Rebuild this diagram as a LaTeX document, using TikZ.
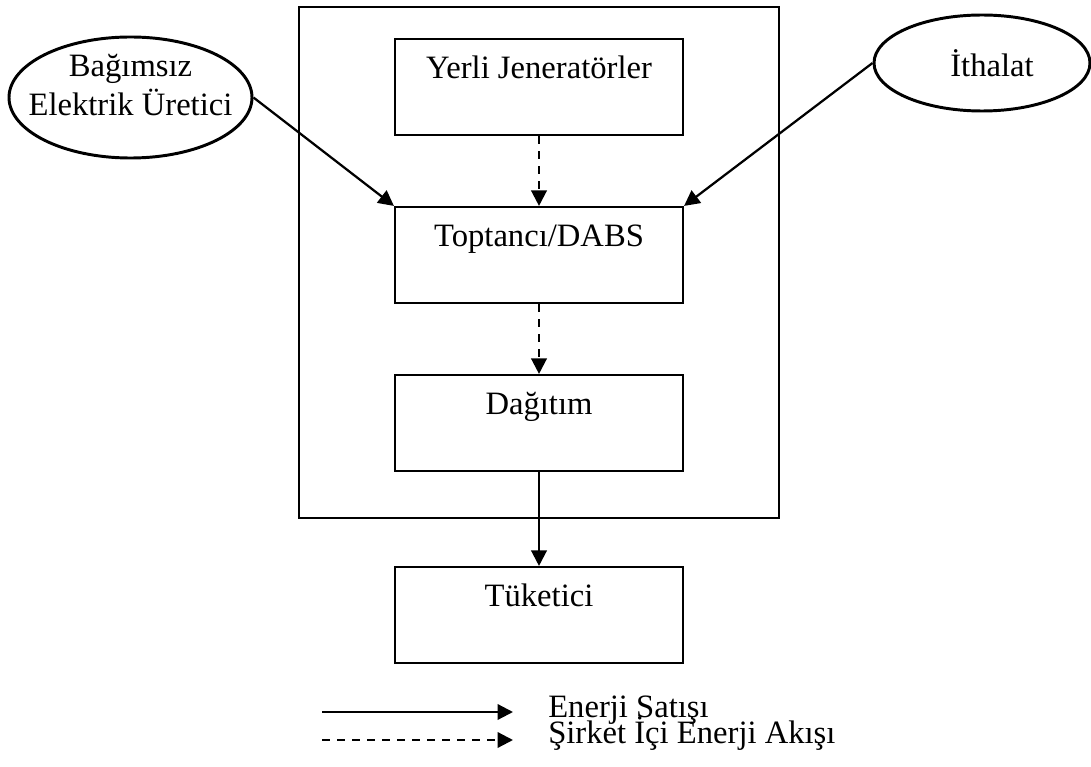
\documentclass[tikz,border=0pt]{standalone}
\usepackage{fontspec}
\setmainfont{Liberation Serif}
\usetikzlibrary{shapes.geometric,arrows.meta}
\begin{document}
\begin{tikzpicture}[
  stepbox/.style={draw, line width=1.5pt, minimum width=7.2cm, minimum height=2.4cm, inner sep=0pt},
  oval/.style={draw, ellipse, line width=2.1pt, inner sep=0pt},
  boxtext/.style={anchor=base, font=\fontsize{23.2}{27}\selectfont, inner sep=0pt},
  sale/.style={line width=1.6pt, -{Triangle[length=11pt,width=11pt]}},
  flow/.style={sale, dash pattern=on 5.7pt off 5pt},
]
\useasboundingbox (0,0) rectangle (27.275,-19.175);

% Company frame
\node[draw, line width=1.5pt, minimum width=12cm, minimum height=12.775cm, inner sep=0pt] (company) at (13.475,-6.5625) {};

% Boxes inside the company
\node[stepbox] (yerli) at (13.475,-2.175) {};
\node[boxtext] (yerlitext) at ([yshift=-1.025cm]yerli.north) {Yerli Jeneratörler};
\node[stepbox] (toptanci) at (13.475,-6.375) {};
\node[boxtext] (toptancitext) at ([yshift=-1.025cm]toptanci.north) {Toptancı/DABS};
\node[stepbox] (dagitim) at (13.475,-10.575) {};
\node[boxtext] (dagitimtext) at ([yshift=-1.025cm]dagitim.north) {Dağıtım};

% Consumer
\node[stepbox] (tuketici) at (13.475,-15.375) {};
\node[boxtext] (tuketicitext) at ([yshift=-1.025cm]tuketici.north) {Tüketici};

% Outside suppliers
\node[oval, minimum width=6.075cm, minimum height=3.025cm] (bagimsiz) at (3.2625,-2.4375) {};
\node[boxtext] (bagimsiztext) at (3.2625,-1.925) {Bağımsız};
\node[boxtext] (ureticitext) at (3.2625,-2.9) {Elektrik Üretici};
\node[oval, minimum width=5.4cm, minimum height=2.4cm] (ithalat) at (24.55,-1.575) {};
\node[boxtext] (ithalattext) at (24.8,-1.925) {İthalat};

% Energy flows
\draw[flow] (yerli.south) -- (toptanci.north);
\draw[flow] (toptanci.south) -- (dagitim.north);
\draw[sale] (dagitim.south) -- (tuketici.north);
\draw[sale] (bagimsiz.east) -- (toptanci.north west);
\draw[sale] (ithalat.west) -- (toptanci.north east);

% Legend
\coordinate (salestart) at (8.05,-17.8);
\coordinate (saleend) at (12.825,-17.8);
\coordinate (flowstart) at (8.05,-18.5);
\coordinate (flowend) at (12.825,-18.5);
\draw[sale] (salestart) -- (saleend);
\draw[flow] (flowstart) -- (flowend);
\node[boxtext, anchor=base west] (saletext) at (13.7,-17.925) {Enerji Satışı};
\node[boxtext, anchor=base west] (flowtext) at (13.7,-18.575) {Şirket İçi Enerji Akışı};
\end{tikzpicture}
\end{document}
